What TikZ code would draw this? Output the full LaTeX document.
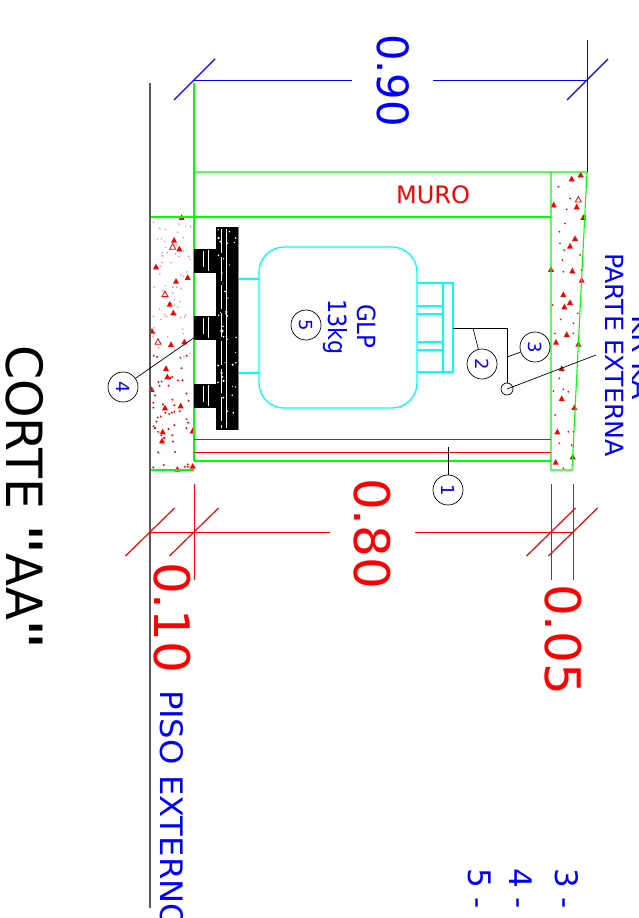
\documentclass[tikz,border=0pt]{standalone}
\usepackage{fontspec}
\setmainfont{DejaVu Sans}
\newfontfamily\plainfont{DejaVu Sans}
\usepackage{tikz}
\definecolor{colorWall}{RGB}{0,255,0}
\definecolor{colorTank}{RGB}{0,255,255}
\definecolor{colorDim}{RGB}{255,0,0}
\definecolor{colorNote}{RGB}{0,0,255}
\newcommand{\fsize}[1]{\fontsize{#1}{#1}\selectfont}
\newcommand{\hs}[2]{\scalebox{#1}[1]{#2}}
\tikzset{
  vtext/.style={rotate=-90, anchor=base west, inner sep=0pt, outer sep=0pt},
  wallline/.style={colorWall, line width=1.1pt},
  tankline/.style={colorTank, line width=1.3pt},
  dimline/.style={line width=1pt},
  leader/.style={black, line width=.7pt},
  numcirc/.style={circle, draw=black, line width=.7pt, minimum size=30pt, inner sep=0pt, rotate=-90, text=colorNote, font=\fsize{18}},
}
\newcommand{\speck}[2]{\fill[colorDim] ({#1-3},{#2+2.6}) -- ({#1+3},{#2+2.6}) -- ({#1},{#2-3}) -- cycle;}
\newcommand{\speckopen}[2]{\draw[colorDim, line width=.8pt] ({#1-3},{#2+2.6}) -- ({#1+3},{#2+2.6}) -- ({#1},{#2-3}) -- cycle;}
\begin{document}
\begin{tikzpicture}[x=1pt, y=-1pt]
\clip (0,0) rectangle (638,918);
% concrete specks, left block
\pgfmathsetseed{11}
\foreach \i in {1,...,60} \fill[colorDim!45] ({153+38*rnd},{220+140*rnd}) circle (.9);
\foreach \i in {1,...,50} \fill[colorDim] ({153+38*rnd},{355+113*rnd}) circle (1.1);
\foreach \X/\Y in {132/240,148/266,78/320,173/352,138/363,119/432,130/458,66/513,123/553,163/545,108/625,112/650,65/688,105/743,152/737,98/815,96/842,188/812,188/918,142/927,155/172}
  {\speck{130+\X/3}{160+\Y/3}}
\foreach \X/\Y in {128/260,105/402,84/545}
  {\speckopen{130+\X/3}{160+\Y/3}}
% concrete specks, right wall
\foreach \X/\Y in {475/80,510/115,478/215,495/190,480/250,492/270,487/300,540/285,490/335,545/330,457/435,482/478,465/520,520/490,520/520,533/460,478/655,460/693,490/688,505/695,465/765,520/815,505/815,478/850,515/855,490/925,520/860,555/168,500/148}
  {\fill[colorDim] ({400+\X/3},{160+\Y/3}) circle (1);}
\foreach \X/\Y in {542/44,515/56,461/134,530/140,550/172,525/235,510/258,517/332,453/328,545/360,490/403,510/427,493/440,500/523,468/546,535/552,485/625,485/715,523/742,472/815,467/906,518/890}
  {\speck{400+\X/3}{160+\Y/3}}
\speckopen{400+535/3}{160+118/3}
% walls
\draw[wallline] (194,83) -- (194,461);
\draw[wallline] (194,172) -- (587,172) -- (572,470) -- (551,470) -- (551,172);
\draw[wallline] (150,217) -- (551,217);
\draw[wallline] (150,217) -- (150,470) -- (194,470);
\draw[wallline] (194,461) -- (551,461);
\draw[colorDim, line width=.8pt] (194,439) -- (551,439);
\draw[colorDim, line width=.8pt] (194,452) -- (551,452);
\draw[gray!70!black, line width=1.1pt] (150,83) -- (150,908);
% pallet
\fill[black] (216,227) rectangle (239,430);
\fill[black] (194,249) rectangle (216,273);
\fill[black] (194,316) rectangle (216,340);
\fill[black] (194,384) rectangle (216,408);
\draw[gray, line width=.8pt] (238.6,227) -- (238.6,430);
\draw[white, line width=.6pt] (226,229) -- (226,428);
\draw[white, line width=.6pt, dash pattern=on 24pt off 4pt] (221,229) -- (221,428);
\foreach \b in {249,316,384} {
  \draw[white, line width=.6pt] (208,\b+1) -- (208,\b+22);
  \draw[white, line width=.5pt] (203,\b+2) -- (203,\b+18);
}
\foreach \i in {1,...,45} \fill[white] ({218+19*rnd},{229+199*rnd}) circle ({.5+.8*rnd});
% tank
\draw[tankline, rounded corners=25pt] (259,247) rectangle (417,408);
\draw[tankline] (239,279) -- (259,279);
\draw[tankline] (239,373) -- (259,373);
\draw[tankline] (417,283) -- (453,283) -- (453,372) -- (417,372);
\draw[tankline] (443,283) -- (443,372);
\draw[tankline] (417,306) -- (443,306);
\draw[tankline] (417,314) -- (443,314);
\draw[tankline] (417,342) -- (443,342);
\draw[tankline] (417,350) -- (443,350);
% hose and regulator
\node[circle, draw=black, line width=.7pt, minimum size=12pt, inner sep=0pt] (reg) at (507,389) {};
\coordinate (hoseA) at (453,328);
\coordinate (hoseB) at (507,328);
\coordinate (hoseC) at (473,328);
\coordinate (hoseD) at (507,357);
\coordinate (outer) at (596,355);
\coordinate (slab) at (448,447);
\coordinate (block) at (195,337);
\draw[leader] (hoseA) -- (hoseB) -- (reg);
\draw[leader] (reg.center) -- (outer);
% numbered circles
\node[numcirc] (num1) at (448,490) {1};
\node[numcirc] (num2) at (482,364) {2};
\node[numcirc] (num3) at (535,347) {3};
\node[numcirc] (num4) at (123,387) {4};
\node[numcirc] (num5) at (306,325) {5};
\draw[leader] (slab) -- (num1);
\draw[leader] (hoseC) -- (num2);
\draw[leader] (hoseD) -- (num3);
\draw[leader] (block) -- (num4);
% dimensions
\coordinate (dimA) at (194,80);
\coordinate (dimB) at (587,80);
\coordinate (extB) at (587,40);
\coordinate (extC) at (587,172);
\draw[colorNote, dimline] (dimA) -- (352,80);
\draw[colorNote, dimline] (433,80) -- (dimB);
\draw[colorNote, dimline] (extB) -- (extC);
\draw[colorNote, line width=1.2pt] (174,100) -- (215,59);
\draw[colorNote, line width=1.2pt] (567,100) -- (608,59);
\draw[colorDim, dimline] (150,532) -- (330,532);
\draw[colorDim, dimline] (415,532) -- (573,532);
\foreach \x in {194,551,573} \draw[colorDim, dimline] (\x,484) -- (\x,580);
\foreach \x in {150,194,551,573} \draw[colorDim, line width=1.2pt] (\x-24.5,556) -- (\x+24.5,508);
% texts
\node[vtext, colorNote, font=\fsize{43}] (t90) at (377,34) {\hs{.97}{0.90}};
\node[vtext, colorDim, font=\fsize{49}] (t80) at (354,478) {\hs{1.02}{0.80}};
\node[vtext, colorDim, font=\fsize{49}] (t10) at (154,562) {\hs{1.02}{0.10}};
\node[vtext, colorDim, font=\fsize{49}] (t05) at (545,584) {\hs{1.02}{0.05}};
\node[anchor=base west, inner sep=0pt, colorDim, font=\fsize{24}] (muro) at (396,203) {MURO};
\node[vtext, colorNote, font=\fsize{25}] (glp) at (357,304) {\hs{.92}{GLP}};
\node[vtext, colorNote, font=\fsize{25}] (kg) at (328,299) {\hs{.89}{13kg}};
\node[vtext, colorNote, font=\fsize{25}] (parte) at (605,253) {\hs{1.01}{PARTE EXTERNA}};
\node[vtext, colorNote, font=\fsize{25}] (kr) at (632,315) {\hs{1.13}{KR KA}};
\node[vtext, colorNote, font=\fsize{31}] (piso) at (160,690) {\hs{1.04}{PISO EXTERNO}};
\node[vtext, colorNote, font=\fsize{31}] (it3) at (555,868) {3 -};
\node[vtext, colorNote, font=\fsize{31}] (it4) at (509,868) {4 -};
\node[vtext, colorNote, font=\fsize{31}] (it5) at (468,868) {5 -};
\node[vtext, black, font=\fsize{50}\plainfont] (corte) at (6,345) {\hs{.98}{CORTE}\hspace{14pt}\hs{1.4}{"}\hspace{-2pt}\hs{.96}{AA}\hspace{-1.7pt}\hs{1.4}{"}};
\end{tikzpicture}
\end{document}
